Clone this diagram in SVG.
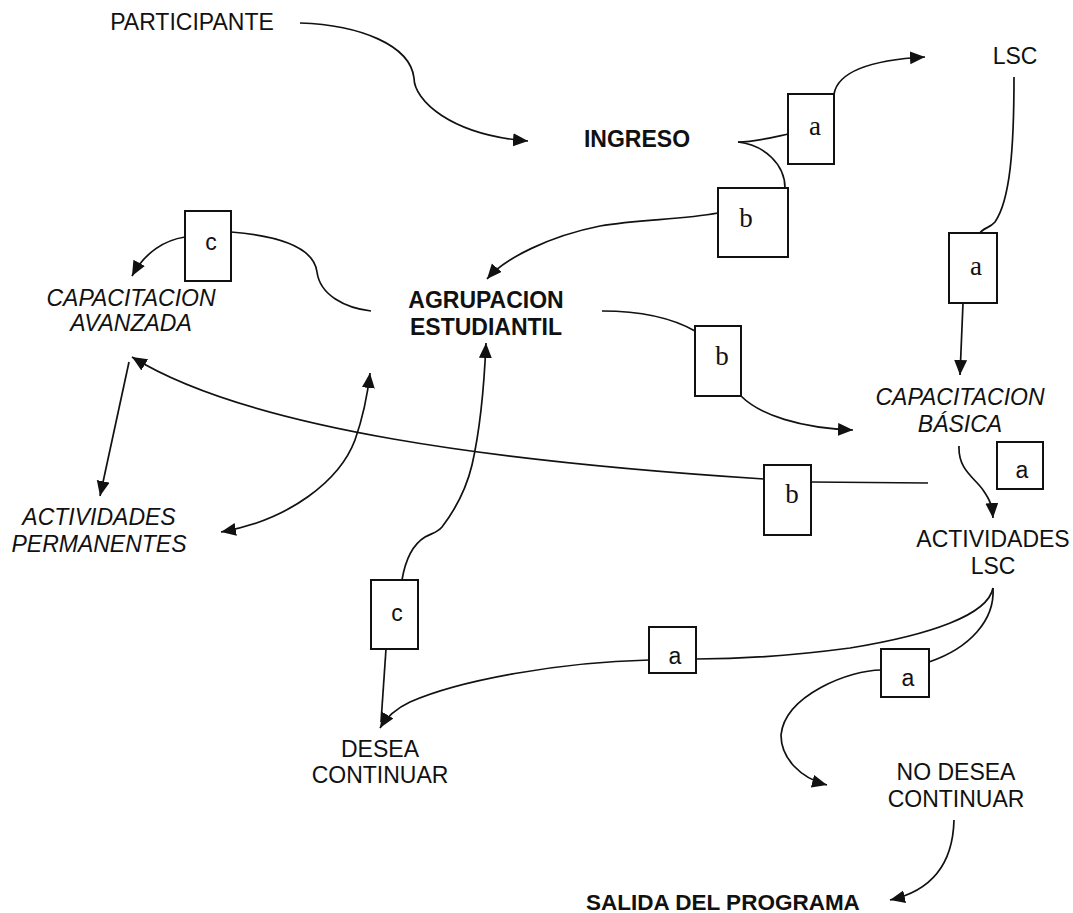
<svg xmlns="http://www.w3.org/2000/svg" width="1073" height="913" viewBox="0 0 1073 913">
<style>
.t{font-family:"Liberation Sans",Arial,sans-serif;font-size:23px;fill:#111;text-anchor:middle}
.b{font-weight:bold}
.i{font-style:italic}
.lbl{font-family:"Liberation Serif","Times New Roman",serif;font-size:27px;fill:#111;text-anchor:middle}
.lbs{font-family:"Liberation Sans",Arial,sans-serif;font-size:23px;fill:#111;text-anchor:middle}
.box{fill:#fff;stroke:#111;stroke-width:2}
.ln{fill:none;stroke:#111;stroke-width:1.7}
</style>
<defs>
<marker id="ah" markerUnits="userSpaceOnUse" markerWidth="16" markerHeight="14" refX="15" refY="6.5" orient="auto-start-reverse" viewBox="0 0 16 14">
<path d="M0,0 L15,6.5 L0,13 z" fill="#111"/>
</marker>
</defs>
<rect width="1073" height="913" fill="#fff"/>

<g id="connectors">
<path class="ln" d="M300,23 C360,25 410,45 414,78 C414,100 450,135 528,141" marker-end="url(#ah)"/>
<path class="ln" d="M738,142 C755,142 770,138 788,134"/>
<path class="ln" d="M834,94 C838,72 870,60 925,57" marker-end="url(#ah)"/>
<path class="ln" d="M738,142 C765,145 785,165 785,188"/>
<path class="ln" d="M718,213 C680,220 640,219 600,226 C550,236 505,258 487,279" marker-end="url(#ah)"/>
<path class="ln" d="M1014,77 C1014,150 1010,200 995,222 C990,228 983,228 980,233"/>
<path class="ln" d="M963,303 L960,375" marker-end="url(#ah)"/>
<path class="ln" d="M602,311 C640,311 672,318 695,331"/>
<path class="ln" d="M741,396 C760,415 800,428 853,430" marker-end="url(#ah)"/>
<path class="ln" d="M371,311 C345,308 320,295 317,272 C314,248 280,236 231,232"/>
<path class="ln" d="M185,237 C165,240 145,252 132,276" marker-end="url(#ah)"/>
<path class="ln" d="M928,483 L811,482"/>
<path class="ln" d="M764,479 C500,462 250,430 132,357" marker-end="url(#ah)"/>
<path class="ln" d="M129,362 L100,496" marker-end="url(#ah)"/>
<path class="ln" d="M221,532 C290,520 340,480 355,440 C362,420 367,400 370,373" marker-start="url(#ah)" marker-end="url(#ah)"/>
<path class="ln" d="M402,580 C405,562 412,545 425,537 C432,533 437,533 442,527 C455,510 466,490 472,465 C480,430 484,390 486,343" marker-end="url(#ah)"/>
<path class="ln" d="M959,446 C958,470 975,478 983,490 C990,500 992,505 993,518" marker-end="url(#ah)"/>
<path class="ln" d="M993,588 C988,615 930,635 850,648 C790,656 740,659 696,659"/>
<path class="ln" d="M649,660 C560,662 460,680 410,702 C395,709 386,718 380,728" marker-end="url(#ah)"/>
<path class="ln" d="M386,649 L381,722"/>
<path class="ln" d="M993,588 C995,620 970,648 929,662"/>
<path class="ln" d="M881,670 C850,670 785,695 781,735 C781,758 800,778 827,785" marker-end="url(#ah)"/>
<path class="ln" d="M954,820 C953,860 935,890 890,900" marker-end="url(#ah)"/>
</g>

<g id="participante"><text class="t" x="192" y="30">PARTICIPANTE</text></g>
<g id="ingreso"><text class="t b" x="637" y="147">INGRESO</text></g>
<g id="lsc"><text class="t" x="1015" y="64">LSC</text></g>
<g id="agrupacion"><text class="t b" x="486" y="308">AGRUPACION</text><text class="t b" x="486" y="335">ESTUDIANTIL</text></g>
<g id="cap-avanzada"><text class="t i" x="131" y="306">CAPACITACION</text><text class="t i" x="131" y="331">AVANZADA</text></g>
<g id="act-permanentes"><text class="t i" x="99" y="525">ACTIVIDADES</text><text class="t i" x="99" y="552">PERMANENTES</text></g>
<g id="cap-basica"><text class="t i" x="960" y="405">CAPACITACION</text><text class="t i" x="960" y="432">BÁSICA</text></g>
<g id="act-lsc"><text class="t" x="993" y="547">ACTIVIDADES</text><text class="t" x="993" y="574">LSC</text></g>
<g id="desea"><text class="t" x="380" y="757">DESEA</text><text class="t" x="380" y="783">CONTINUAR</text></g>
<g id="no-desea"><text class="t" x="956" y="780">NO DESEA</text><text class="t" x="956" y="807">CONTINUAR</text></g>
<g id="salida"><text class="t b" x="723" y="910" style="font-size:22.5px">SALIDA DEL PROGRAMA</text></g>

<g id="label-a1"><rect class="box" x="788" y="94" width="46" height="70"/><text class="lbl" x="815" y="135">a</text></g>
<g id="label-b1"><rect class="box" x="718" y="188" width="70" height="69"/><text class="lbl" x="746" y="227">b</text></g>
<g id="label-a2"><rect class="box" x="949" y="233" width="48" height="70"/><text class="lbl" x="976" y="275">a</text></g>
<g id="label-b2"><rect class="box" x="695" y="326" width="46" height="70"/><text class="lbl" x="722" y="365">b</text></g>
<g id="label-a3"><rect class="box" x="997" y="442" width="46" height="47"/><text class="lbs" x="1022" y="478">a</text></g>
<g id="label-b3"><rect class="box" x="764" y="465" width="47" height="70"/><text class="lbl" x="792" y="503">b</text></g>
<g id="label-c1"><rect class="box" x="185" y="211" width="46" height="70"/><text class="lbs" x="211" y="250">c</text></g>
<g id="label-c2"><rect class="box" x="371" y="580" width="47" height="69"/><text class="lbs" x="397" y="621">c</text></g>
<g id="label-a4"><rect class="box" x="649" y="627" width="47" height="46"/><text class="lbs" x="675" y="664">a</text></g>
<g id="label-a5"><rect class="box" x="881" y="649" width="48" height="48"/><text class="lbs" x="908" y="686">a</text></g>
</svg>
